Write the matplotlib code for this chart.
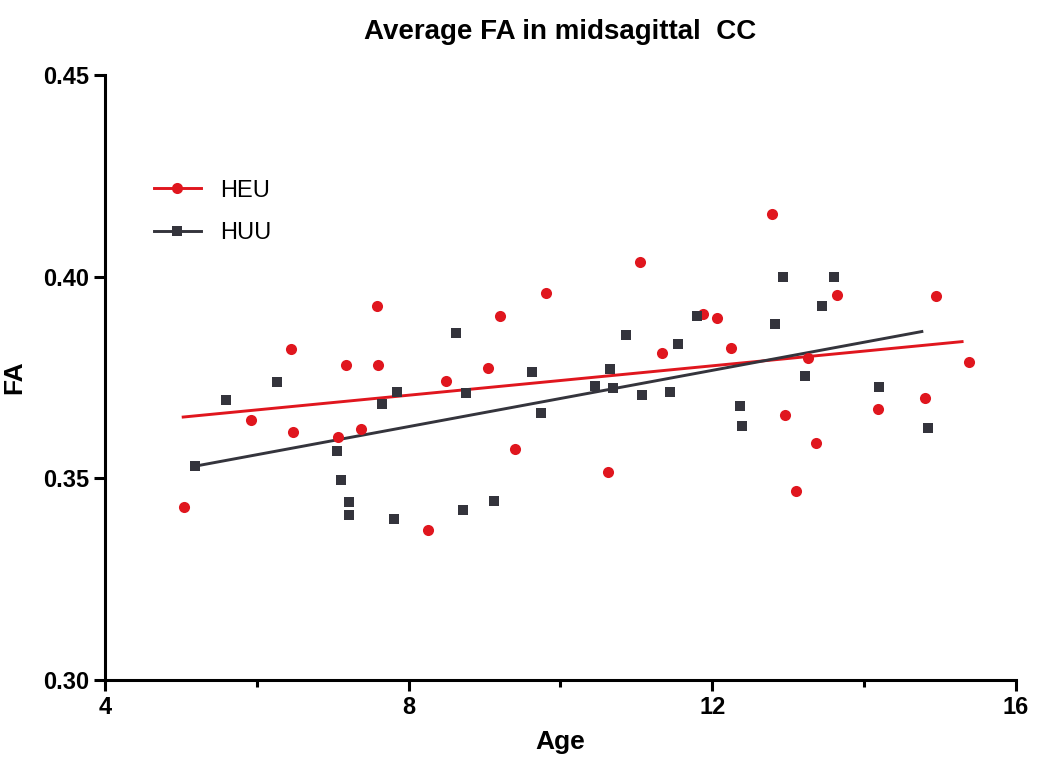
import matplotlib
matplotlib.use('Agg')
import matplotlib.pyplot as plt
from matplotlib.ticker import MultipleLocator

plt.rcParams['font.family'] = ['Liberation Sans', 'DejaVu Sans']

# HEU group (red circles)
heu_age = [5.04, 5.92, 6.45, 6.48, 7.17, 7.58, 7.60, 7.07, 7.37, 8.49, 8.25,
           9.05, 9.20, 9.40, 9.81, 10.63, 11.05, 11.34, 11.88, 12.06, 12.25,
           12.79, 13.64, 14.94, 13.26, 15.38, 12.96, 14.80, 14.18, 13.36, 13.10]
heu_fa = [0.3428, 0.3644, 0.3820, 0.3614, 0.3782, 0.3928, 0.3780, 0.3603, 0.3623, 0.3742, 0.3371,
          0.3773, 0.3902, 0.3574, 0.3960, 0.3515, 0.4037, 0.3810, 0.3908, 0.3898, 0.3823,
          0.4155, 0.3954, 0.3951, 0.3799, 0.3789, 0.3658, 0.3698, 0.3671, 0.3587, 0.3469]

# HUU group (dark squares)
huu_age = [5.18, 5.60, 6.26, 7.05, 7.11, 7.21, 7.21, 7.65, 7.85, 7.81, 8.62,
           8.75, 8.71, 9.12, 9.62, 9.74, 10.46, 10.65, 10.69, 10.86, 11.07,
           11.44, 11.55, 11.80, 12.36, 12.39,
           12.93, 13.60, 13.45, 12.82, 13.22, 14.20, 14.84]
huu_fa = [0.3530, 0.3695, 0.3739, 0.3569, 0.3495, 0.3442, 0.3410, 0.3684, 0.3714, 0.3398, 0.3860,
          0.3712, 0.3422, 0.3445, 0.3764, 0.3663, 0.3730, 0.3771, 0.3724, 0.3856, 0.3706,
          0.3714, 0.3832, 0.3903, 0.3680, 0.3630,
          0.3998, 0.3999, 0.3928, 0.3883, 0.3754, 0.3727, 0.3624]

# regression line end points as drawn
heu_fit_x = [5.03, 15.29]
heu_fit_y = [0.3652, 0.3839]
huu_fit_x = [5.18, 14.76]
huu_fit_y = [0.3530, 0.3864]

red = '#e0161e'
dark = '#34343c'

fig = plt.figure(figsize=(10.5, 7.67), dpi=100)
ax = fig.add_axes([0.1, 0.1134, 0.8676, 0.7888])

ax.plot(heu_fit_x, heu_fit_y, color=red, lw=2.1, zorder=2)
ax.plot(huu_fit_x, huu_fit_y, color=dark, lw=2.1, zorder=2)
ax.plot(heu_age, heu_fa, 'o', color=red, ms=8, mew=0, zorder=3)
ax.plot(huu_age, huu_fa, 's', color=dark, ms=7.5, mew=0, zorder=3)

# legend entries (line + marker)
h1, = ax.plot([], [], '-o', color=red, lw=2.1, ms=8, mew=0, label='HEU')
h2, = ax.plot([], [], '-s', color=dark, lw=2.1, ms=7.5, mew=0, label='HUU')
ax.legend(handles=[h1, h2], loc='upper left', bbox_to_anchor=(0.03, 0.862),
          frameon=False, fontsize=17, handlelength=2.0, handletextpad=0.8,
          labelspacing=0.85)

ax.set_xlim(4, 16)
ax.set_ylim(0.30, 0.45)
ax.xaxis.set_major_locator(MultipleLocator(4))
ax.xaxis.set_minor_locator(MultipleLocator(2))
ax.set_yticks([0.30, 0.35, 0.40, 0.45])
ax.set_yticklabels(['0.30', '0.35', '0.40', '0.45'])

for s in ['top', 'right']:
    ax.spines[s].set_visible(False)
for s in ['left', 'bottom']:
    ax.spines[s].set_linewidth(2.2)
ax.tick_params(which='major', direction='out', length=8, width=2.2, labelsize=17)
ax.tick_params(which='minor', direction='out', length=5, width=2.2)
for lbl in ax.get_xticklabels() + ax.get_yticklabels():
    lbl.set_fontweight('bold')

ax.set_xlabel('Age', fontsize=19, fontweight='bold', labelpad=8)
ax.set_ylabel('FA', fontsize=19, fontweight='bold', labelpad=12)
ax.set_title('Average FA in midsagittal  CC', fontsize=20, fontweight='bold', pad=26)

fig.savefig('out.png', dpi=100)
